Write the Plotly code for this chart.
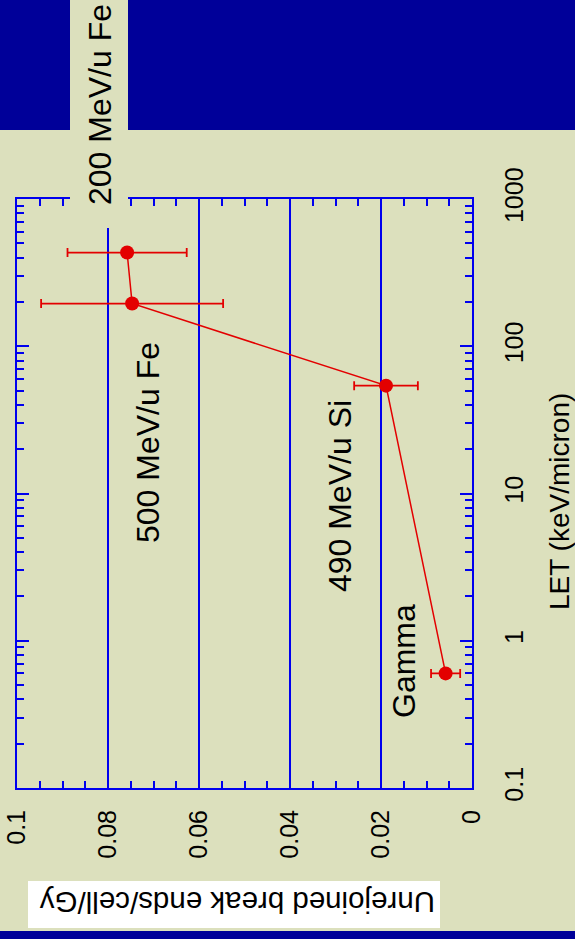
import plotly.graph_objects as go

# Unrejoined break ends per cell per Gy versus LET, for four radiation types
radiation = ["Gamma", "490 MeV/u Si", "500 MeV/u Fe", "200 MeV/u Fe"]
let_kev_um = [0.6, 54, 195, 433]
break_ends = [0.0058, 0.0189, 0.0747, 0.0758]
break_ends_err = [0.0032, 0.0070, 0.0200, 0.0131]

value_ticks = [0, 0.02, 0.04, 0.06, 0.08, 0.1]
value_tick_text = ["0", "0.02", "0.04", "0.06", "0.08", "0.1"]
let_ticks = [0.1, 1, 10, 100, 1000]
let_tick_text = ["0.1", "1", "10", "100", "1000"]
grid_values = [0.02, 0.04, 0.06, 0.08]

W, H = 575, 939
ML, MR, MT, MB = 17, 103, 199, 151
PW, PH = W - ML - MR, H - MT - MB

BG = "#dce0bd"
NAVY = "#000099"
BLUE = "#0000ee"
RED = "#e30000"
FONT = "Liberation Sans, Arial, sans-serif"


def px(x):
    return (x - ML) / PW


def py(y):
    return (H - MB - y) / PH


fig = go.Figure()
fig.add_trace(go.Scatter(
    x=break_ends, y=let_kev_um,
    mode="lines+markers",
    line=dict(color=RED, width=1.5),
    marker=dict(color=RED, size=14),
    error_x=dict(type="data", array=break_ends_err, color=RED,
                 thickness=1.8, width=4.5),
    showlegend=False,
))

shapes = []
# vertical grid lines
for v in grid_values:
    shapes.append(dict(type="line", xref="x", yref="paper", x0=v, x1=v,
                       y0=0, y1=1, line=dict(color=BLUE, width=2),
                       layer="below"))
# navy title band and footer strip
shapes.append(dict(type="rect", xref="paper", yref="paper",
                   x0=px(0), x1=px(W), y0=py(130), y1=py(0),
                   fillcolor=NAVY, line=dict(width=0), layer="above"))
shapes.append(dict(type="rect", xref="paper", yref="paper",
                   x0=px(0), x1=px(W), y0=py(H), y1=py(931),
                   fillcolor=NAVY, line=dict(width=0), layer="above"))
# label backdrop breaking the frame at the top
shapes.append(dict(type="rect", xref="paper", yref="paper",
                   x0=px(70), x1=px(128), y0=py(228), y1=py(0),
                   fillcolor=BG, line=dict(width=0), layer="above"))
# white box behind the value-axis title
shapes.append(dict(type="rect", xref="paper", yref="paper",
                   x0=px(28), x1=px(440), y0=py(928), y1=py(881),
                   fillcolor="white", line=dict(width=0), layer="above"))

label_pos = {
    "Gamma": (404, 661),
    "490 MeV/u Si": (340, 496),
    "500 MeV/u Fe": (148, 443),
    "200 MeV/u Fe": (100, 105),
}
annotations = []
for name in radiation:
    lx, ly = label_pos[name]
    annotations.append(dict(text=name, xref="paper", yref="paper",
                            x=px(lx), y=py(ly), showarrow=False,
                            textangle=-90, xanchor="center", yanchor="middle",
                            font=dict(family=FONT, size=32, color="black")))
annotations.append(dict(text="LET (keV/micron)", xref="paper", yref="paper",
                        x=px(559), y=py(502), showarrow=False, textangle=-90,
                        xanchor="center", yanchor="middle",
                        font=dict(family=FONT, size=28, color="black")))
annotations.append(dict(text="Unrejoined break ends/cell/Gy", xref="paper",
                        yref="paper", x=px(238), y=py(903), showarrow=False,
                        textangle=180, xanchor="center", yanchor="middle",
                        font=dict(family=FONT, size=29.5, color="black")))

fig.update_layout(
    template="none",
    width=W, height=H,
    margin=dict(l=ML, r=MR, t=MT, b=MB, pad=0, autoexpand=False),
    paper_bgcolor=BG, plot_bgcolor=BG,
    font=dict(family=FONT, color="black"),
    shapes=shapes, annotations=annotations,
    xaxis=dict(
        range=[0.1, 0], tickmode="array", tickvals=value_ticks,
        ticktext=value_tick_text, tickangle=-90, automargin=False,
        ticks="inside", ticklen=12, tickwidth=2, tickcolor=BLUE,
        minor=dict(dtick=0.005, ticks="inside", ticklen=7, tickwidth=2,
                   tickcolor=BLUE, showgrid=False),
        showline=True, linecolor=BLUE, linewidth=2, mirror="ticks",
        showgrid=False, zeroline=False, ticklabelstandoff=10,
        tickfont=dict(family=FONT, size=25, color="black"),
    ),
    yaxis=dict(
        type="log", range=[-1, 3], side="right", tickmode="array",
        tickvals=let_ticks, ticktext=let_tick_text, tickangle=-90,
        automargin=False,
        ticks="inside", ticklen=12, tickwidth=2, tickcolor=BLUE,
        minor=dict(dtick="D1", ticks="inside", ticklen=7, tickwidth=2,
                   tickcolor=BLUE, showgrid=False),
        showline=True, linecolor=BLUE, linewidth=2, mirror="ticks",
        showgrid=False, zeroline=False, ticklabelstandoff=19,
        tickfont=dict(family=FONT, size=25, color="black"),
    ),
)

fig.write_html("out.html")
